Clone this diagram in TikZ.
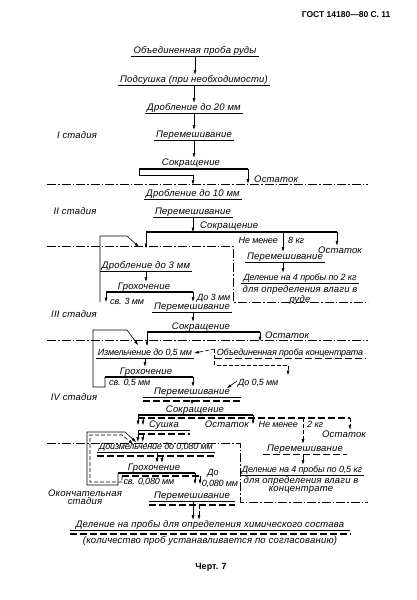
\documentclass[tikz,border=0pt]{standalone}
\usepackage{fontspec}
\newfontfamily\gostfont{Liberation Sans}[LetterSpace=2]
\newfontfamily\gostschmal{Liberation Sans}[LetterSpace=-2]
\newfontfamily\kopffont{Liberation Sans}
\usetikzlibrary{arrows.meta}

\tikzset{
  txt/.style={font=\gostfont\itshape\fontsize{9.5}{8.5}\selectfont, inner sep=1pt},
  eng/.style={font=\gostschmal\itshape\fontsize{9}{8.5}\selectfont},
  op/.style={txt, text height=6.5pt, text depth=2pt, inner xsep=2pt},
  uline/.style={line width=1.3pt},
  duline/.style={line width=1.3pt, dash pattern=on 7pt off 3pt},
  arr/.style={line width=0.6pt, -{Triangle[length=4.5pt,width=2.6pt]}},
  darr/.style={arr, dash pattern=on 4pt off 2pt},
  stageline/.style={line width=0.5pt, dash pattern=on 9pt off 2pt on 1.5pt off 2pt},
}

\begin{document}
\begin{tikzpicture}[x=1pt, y=-1pt]
  \useasboundingbox (0,0) rectangle (416,600);

  % Kopfzeile
  \node[font=\kopffont\bfseries\fontsize{8.5}{10}\selectfont, anchor=east] (kopf) at (394,15) {ГОСТ 14180—80 С. 11};

  % I стадия
  \node[op] (probe) at (195,51) {Объединенная проба руды};
  \node[op] (sush) at (194,80) {Подсушка (при необходимости)};
  \node[op] (drob20) at (194,108) {Дробление до 20 мм};
  \node[op] (perem1) at (194,135) {Перемешивание};
  \node[txt] (st1) at (77,135) {I стадия};
  \foreach \n in {probe,sush,drob20,perem1}
    \draw[uline] (\n.south west) -- (\n.south east);
  \draw[arr] (probe.south) -- (probe.south |- sush.north);
  \draw[arr] (sush.south) -- (sush.south |- drob20.north);
  \draw[arr] (drob20.south) -- (drob20.south |- perem1.north);

  \node[txt] (sokr1) at (191,163) {Сокращение};
  \coordinate (s1l) at (139,169);
  \coordinate (s1r) at (248,169);
  \draw[arr] (perem1.south) -- (perem1.south |- sokr1.north);
  \draw[uline] (s1l) -- (s1r);
  \node[txt, anchor=west] (ost1) at (253,179) {Остаток};
  \draw[arr] (s1r) -- (s1r |- ost1.south);
  \node[op] (drob10) at (193,194) {Дробление до 10 мм};
  \draw[arr] (s1l) -- ++(0,6) -| ([yshift=4pt]drob10.north);
  \draw[uline] (drob10.south west) -- (drob10.south east);

  \draw[stageline] (47,184) -- (368,184);

  % II стадия
  \node[txt] (st2) at (75,211) {II стадия};
  \node[op] (perem2) at (193,212) {Перемешивание};
  \draw[uline] (perem2.south west) -- (perem2.south east);
  \node[txt, anchor=west] (sokr2) at (199,226) {Сокращение};
  \coordinate (s2l) at (146,232);
  \coordinate (s2m) at (283,232);
  \coordinate (s2r) at (337,232);
  \coordinate (j3) at (146,248);
  \draw[arr] (perem2.south) -- (perem2.south |- s2l);
  \draw[uline] (s2l) -- (s2r);
  \draw[arr] (s2l) -- (j3);
  \node[txt, eng, anchor=east] (nm1) at (279,240) {Не менее};
  \node[txt, eng, anchor=west] (kg8) at (287,240) {8 кг};
  \node[op] (perem3) at (285,257) {Перемешивание};
  \draw[uline] (perem3.south west) -- (perem3.south east);
  \draw[arr] (s2m) -- (s2m |- perem3.north);
  \node[txt] (ost2) at (340,250) {Остаток};
  \draw[arr] (s2r) -- (s2r |- ost2.north);
  \node[op, eng] (del2) at (300,278) {Деление на 4 пробы по 2 кг};
  \draw[uline] (del2.south west) -- (del2.south east);
  \node[txt, align=center] (vl1) at (300,295) {для определения влаги в\\руде};
  \draw[arr] (s2m |- perem3.south) -- (s2m |- del2.north);

  \draw[stageline] (47,246) -- (233,246) -- (233,302) -- (368,302);

  % Rücklauf св. 3 мм
  \coordinate (r3a) at (100,302);
  \coordinate (r3b) at (127,236);
  \coordinate (r3c) at (139,247);
  \draw[arr] (r3a) |- (r3b) -- (r3c);

  % III стадия
  \node[op] (drob3) at (146,266) {Дробление до 3 мм};
  \draw[uline] (drob3.south west) -- (drob3.south east);
  \node[txt] (groh1) at (144,287) {Грохочение};
  \draw[arr] (drob3.south) -- (drob3.south |- groh1.north);
  \coordinate (g1l) at (106,292);
  \coordinate (g1r) at (193,292);
  \draw[uline] (g1l) -- (g1r);
  \draw[arr] (g1l) -- ++(0,10);
  \node[txt, eng, anchor=west] (sv3) at (109,301) {св. 3 мм};
  \node[txt, eng, anchor=west] (do3) at (196,298) {До 3 мм};
  \node[op] (perem4) at (192,307) {Перемешивание};
  \draw[uline] (perem4.south west) -- (perem4.south east);
  \draw[arr] (g1r) -- (g1r |- perem4.north);
  \node[txt] (st3) at (74,314) {III стадия};
  \node[txt] (sokr3) at (201,327) {Сокращение};
  \draw[arr] (g1r |- perem4.south) -- (g1r |- sokr3.north);
  \coordinate (s3l) at (147,332);
  \coordinate (s3r) at (260,332);
  \coordinate (j4) at (147,346);
  \draw[uline] (s3l) -- (s3r);
  \node[txt, anchor=west] (ost3) at (264,335) {Остаток};
  \draw[arr] (s3r) -- ++(0,9);
  \draw[arr] (s3l) -- (j4);

  \draw[stageline] (47,340) -- (368,340);

  % Rücklauf св. 0,5 мм
  \coordinate (g2l) at (105,377);
  \coordinate (g2r) at (193,377);
  \coordinate (r4a) at (93,387);
  \coordinate (r4b) at (127,330);
  \coordinate (r4c) at (138,345);
  \draw[arr] (g2l) -- (g2l |- r4a) -- (r4a) |- (r4b) -- (r4c);

  % IV стадия
  \node[op, eng, minimum width=96pt] (izm) at (145,353) {Измельчение до 0,5 мм};
  \draw[uline] (izm.south west) -- (izm.south east);
  \node[txt] (groh2) at (146,372) {Грохочение};
  \draw[arr] (izm.south) -- (izm.south |- groh2.north);
  \draw[uline] (g2l) -- (g2r);
  \node[txt, eng, anchor=west] (sv05) at (108,383) {св. 0,5 мм};
  \node[op, eng] (conc) at (290,353) {Объединенная проба концентрата};
  \draw[duline] (conc.south west) -- (conc.south east);
  \coordinate (c2) at (288,365);
  \draw[darr] ([yshift=4pt]conc.west) -- (izm.east);
  \draw[darr] ([yshift=4pt]conc.west) |- (c2) -- ++(0,10);
  \node[txt, eng, anchor=west] (do05) at (237,383) {До 0,5 мм};
  \draw[arr] ([yshift=2pt]do05.west) -- ++(-10,7);
  \node[op, minimum width=97pt] (perem5) at (192,392) {Перемешивание};
  \draw[uline] (perem5.south west) -- (perem5.south east);
  \draw[duline] ([yshift=-3.5pt]perem5.south west) -- ([yshift=-3.5pt]perem5.south east);
  \draw[arr] (g2r) -- (g2r |- perem5.north);
  \node[txt] (st4) at (74,397) {IV стадия};
  \node[txt] (sokr4) at (195,410) {Сокращение};
  \draw[arr] ([yshift=-3.5pt]perem5.south) -- (perem5.south |- sokr4.north);

  \coordinate (s4l) at (138,415);
  \coordinate (s4r) at (253,415);
  \coordinate (s4dl) at (143,418);
  \coordinate (s4m) at (303,418);
  \coordinate (s4dr) at (350,418);
  \draw[uline] (s4l) -- (s4r);
  \draw[duline] (s4l |- s4dl) -- (s4dr);
  \node[op, minimum width=52pt] (sushka) at (164,425) {Сушка};
  \draw[uline] (sushka.south west) -- (sushka.south east);
  \draw[duline] ([yshift=-3.5pt]sushka.south west) -- ([yshift=-3.5pt]sushka.south east);
  \draw[arr] (s4l) -- ++(0,10);
  \draw[darr] (s4dl) -- ++(0,7);
  \node[txt, anchor=east] (ost4) at (250,424) {Остаток};
  \draw[arr] (s4r) -- ++(0,9);
  \node[txt, eng, anchor=east] (nm2) at (299,424) {Не менее};
  \node[txt, eng, anchor=west] (kg2) at (306,424) {2 кг};
  \node[op, minimum width=84pt] (perem6) at (305,449) {Перемешивание};
  \draw[duline] (perem6.south west) -- (perem6.south east);
  \draw[darr] (s4m) -- (s4m |- perem6.north);
  \node[txt] (ost5) at (344,434) {Остаток};
  \draw[darr] (s4dr) -- (s4dr |- ost5.north);
  \node[op, eng] (del05) at (302,470) {Деление на 4 пробы по 0,5 кг};
  \draw[uline] (del05.south west) -- (del05.south east);
  \node[txt, align=center] (vl2) at (301,485) {для определения влаги в\\концентрате};
  \draw[arr] (s4m |- perem6.south) -- (s4m |- del05.north);

  \draw[stageline] (47,443) -- (240,443) -- (240,502) -- (368,502);

  % Окончательная стадия
  \node[op, eng, minimum width=118pt] (dizm) at (156,447) {Доизмельчение до 0,080 мм};
  \draw[uline] (dizm.south west) -- (dizm.south east);
  \draw[duline] ([yshift=-3.5pt]dizm.south west) -- ([yshift=-3.5pt]dizm.south east);
  \draw[arr] (sushka.south west) -- (sushka.south west |- dizm.north);
  \draw[darr] ([xshift=5pt,yshift=-3.5pt]sushka.south west) -- ([xshift=5pt]sushka.south west |- dizm.north);
  \node[txt] (groh3) at (154,468) {Грохочение};
  \draw[arr] ([xshift=1pt]dizm.south) -- ([xshift=1pt]dizm.south |- groh3.north);
  \draw[darr] ([xshift=6pt,yshift=-3.5pt]dizm.south) -- ([xshift=6pt]dizm.south |- groh3.north);
  \coordinate (g3l) at (118,473);
  \coordinate (g3r) at (195,473);
  \coordinate (g3dl) at (122,476);
  \coordinate (g3dr) at (200,476);
  \draw[uline] (g3l) -- (g3r);
  \draw[duline] (g3dl) -- (g3dr);
  \draw[arr] (g3r) -- ++(0,11);
  \draw[darr] (g3dr) -- ++(0,8);
  \node[txt, eng] (sv080) at (149,482) {св. 0,080 мм};
  \node[txt, eng] (do080a) at (213,473) {До};
  \node[txt, eng] (do080b) at (220,484) {0,080 мм};
  % Rücklauf св. 0,080 мм
  \coordinate (r5a) at (87,485);
  \coordinate (r5b) at (125,432);
  \coordinate (r5c) at (136,442);
  \draw[arr] (g3l) -- (g3l |- r5a) -- (r5a) |- (r5b) -- (r5c);
  \coordinate (r6a) at (90,482);
  \coordinate (r6b) at (122,435);
  \coordinate (r6c) at (133,444);
  \draw[darr] (g3dl) -- (g3dl |- r6a) -- (r6a) |- (r6b) -- (r6c);

  \node[txt, align=center] (st5) at (85,497) {Окончательная\\стадия};
  \node[op, minimum width=85pt] (perem7) at (192,496) {Перемешивание};
  \draw[uline] (perem7.south west) -- (perem7.south east);
  \draw[duline] ([yshift=-3.5pt]perem7.south west) -- ([yshift=-3.5pt]perem7.south east);
  \node[op, minimum width=280pt] (delchem) at (210,525) {Деление на пробы для определения химического состава};
  \draw[uline] (delchem.south west) -- (delchem.south east);
  \draw[duline] ([yshift=-3.5pt]delchem.south west) -- ([yshift=-3.5pt]delchem.south east);
  \draw[arr] ([xshift=1pt]perem7.south) -- ([xshift=1pt]perem7.south |- delchem.north);
  \draw[darr] ([xshift=7pt,yshift=-3.5pt]perem7.south) -- ([xshift=7pt]perem7.south |- delchem.north);
  \node[txt] (kol) at (210,541) {(количество проб устанавливается по согласованию)};

  \node[font=\kopffont\bfseries\fontsize{9}{10}\selectfont] (chert) at (211,567) {Черт. 7};
\end{tikzpicture}
\end{document}
